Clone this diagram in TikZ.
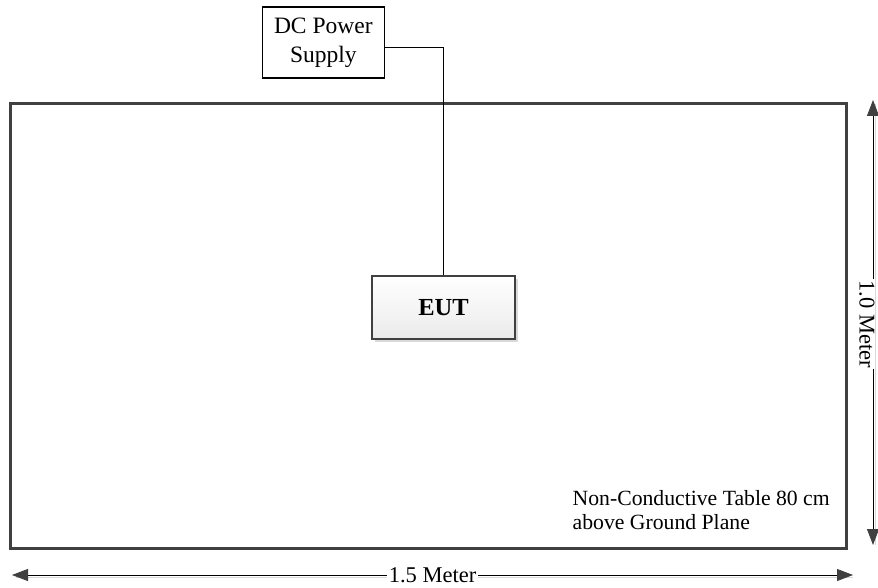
\documentclass[tikz,border=0pt]{standalone}
\usepackage{fontspec}
\setmainfont{Liberation Serif}
\usetikzlibrary{arrows.meta,shadows}
\definecolor{frame}{HTML}{404040}
\definecolor{shade}{HTML}{D9D9D9}
\begin{document}
\begin{tikzpicture}[x=1pt,y=-1pt,
  tablebox/.style={draw=frame, line width=3.5pt, minimum width=836pt, minimum height=445pt, inner sep=0pt},
  plainbox/.style={draw=black, line width=1.1pt, minimum width=121.5pt, minimum height=71pt, inner sep=0pt, align=center, font=\fontsize{23.5}{29}\selectfont},
  eutbox/.style={draw=frame, line width=2pt, minimum width=143pt, minimum height=63pt, inner sep=0pt,
    top color=white, bottom color=black!8,
    drop shadow={shadow xshift=3pt, shadow yshift=-3pt, fill=black!15, opacity=1},
    font=\fontsize{24.5}{29}\bfseries\selectfont},
  wire/.style={draw=black, line width=0.8pt},
  dimline/.style={draw=black, line width=0.8pt, {Triangle[length=16pt,width=12pt,fill=frame,color=frame]}-{Triangle[length=16pt,width=12pt,fill=frame,color=frame]}},
  dimshadow/.style={draw=shade, line width=1.6pt},
  dimlabel/.style={fill=white, inner sep=1.5pt, font=\fontsize{22.5}{27}\selectfont}
]
\useasboundingbox (0,0) rectangle (878,588);
\fill[white] (0,0) rectangle (878,588);

% table
\node[tablebox] (table) at (428.5,326) {};

% boxes
\node[plainbox] (dc) at (323.3,42.5) {DC Power\\Supply};
\node[eutbox] (eut) at (443.5,307.5) {EUT};
\draw[wire] ([yshift=-4.5pt]dc.east) -| (eut.north);

% note
\node[anchor=base west, align=left, inner sep=0pt, font=\fontsize{21.7}{24}\selectfont] (note) at (572.5,529) {Non-Conductive Table 80 cm\\above Ground Plane};

% horizontal dimension
\coordinate (hl) at (12,575);
\coordinate (hr) at (853,575);
\draw[dimshadow] ([shift={(4,2.5)}]hl) -- ([shift={(0,2.5)}]hr);
\draw[dimline] (hl) -- (hr) node[dimlabel, midway] (hlabel) {1.5 Meter};

% vertical dimension
\coordinate (vt) at (873,100);
\coordinate (vb) at (873,545);
\draw[dimshadow] ([shift={(2.5,4)}]vt) -- ([shift={(2.5,0)}]vb);
\draw[dimline] (vt) -- (vb);
\node[dimlabel, rotate=-90, inner sep=0pt, inner xsep=1.5pt] (vlabel) at (867,324) {1.0 Meter};
\end{tikzpicture}
\end{document}
